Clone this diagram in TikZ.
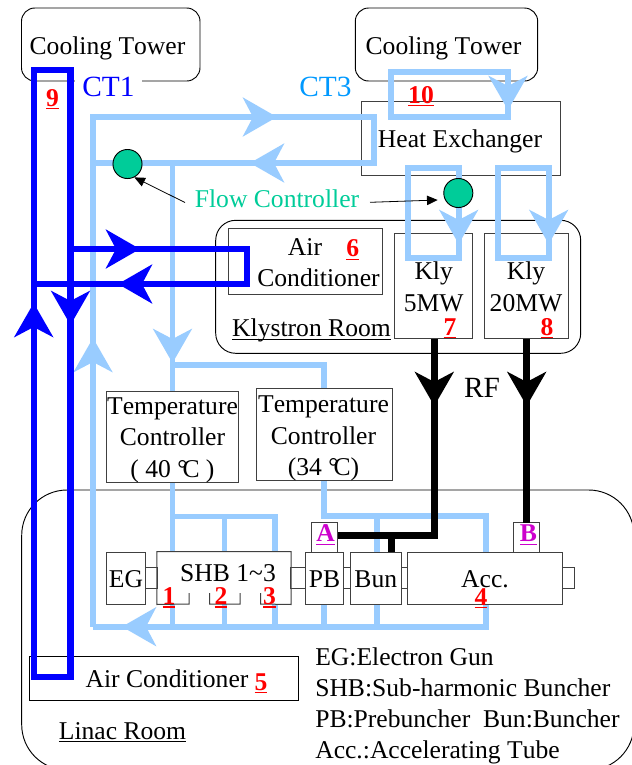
\documentclass[tikz,border=0pt]{standalone}
\usepackage{fontspec}
\setmainfont[Kerning=Off]{Liberation Serif}
\usetikzlibrary{arrows.meta}
\definecolor{ctone}{HTML}{0000FF}
\definecolor{ctthree}{HTML}{99CCFF}
\definecolor{ctthreetext}{HTML}{0099FF}
\definecolor{flow}{HTML}{00CC99}
\definecolor{mag}{HTML}{CC00CC}
\newcommand\myul[1]{\setbox0\hbox{#1}\leavevmode\hbox{\rlap{\rule[-2.3pt]{\wd0}{0.9pt}}\box0}}
\newcommand\pxbox[7][]{\node[#1,minimum width={(#5-#3)*0.75pt},minimum height={(#6-#4)*0.75pt}] (#2) at ({(#3+#5)/2},{(#4+#6)/2}) {#7};}
\tikzset{
  basefont/.style={font=\fontsize{19.2}{22}\selectfont},
  lbl/.style={basefont,inner sep=0pt,anchor=base},
  box/.style={draw=black!75,line width=0.75pt,inner sep=0pt,align=center,basefont},
  wbox/.style={box,fill=white},
  room/.style={draw=black,line width=0.7pt,fill=white,rounded corners=#1,inner sep=0pt},
  redn/.style={basefont,inner sep=0pt,text=red,anchor=base},
  magn/.style={basefont,inner sep=0pt,text=mag,anchor=base},
  pipeA/.style={draw=ctone,line width=4.6pt,line join=miter},
  pipeC/.style={draw=ctthree,line width=4.2pt,line join=miter},
  pipeR/.style={draw=black,line width=4.9pt,line join=miter},
  head/.style={-{Stealth[length=25.5pt,width=29pt,inset=7.5pt]}},
  thin/.style={draw=black,line width=0.6pt,-{Stealth[length=8pt,width=7pt,inset=0pt]}},
  valve/.style={circle,draw=black,line width=0.7pt,fill=flow,minimum size=21.8pt,inner sep=0pt},
}
\begin{document}
\begin{tikzpicture}[x=0.75pt,y=-0.75pt]
\useasboundingbox (0,0) rectangle (632,765);
% rooms and towers
\pxbox[room=10pt,basefont]{towerA}{21.5}{8}{200}{81}{}
\pxbox[room=10pt,basefont]{towerB}{355.3}{8}{537.7}{81}{}
\node[lbl] (towerAt) at (107.5,54) {Cooling Tower};
\node[lbl] (towerBt) at (443.5,54) {Cooling Tower};
\pxbox[room=34pt,basefont]{linac}{21.7}{490}{634}{770}{}
\pxbox[room=15pt,basefont]{klyroom}{215.7}{220.3}{580.7}{353.3}{}
\pxbox[wbox]{heat}{361}{101.7}{560}{175.7}{}
\pxbox[wbox]{klyA}{394.7}{233.5}{472}{338.7}{}
\pxbox[wbox]{klyB}{484.7}{233.5}{568.7}{338.7}{}
\pxbox[box]{acA}{228.7}{228.3}{382.3}{294.7}{}
\pxbox[box,draw=black]{acB}{29.3}{656}{298.3}{700.3}{}
% coordinates of the pipes
\coordinate (mL) at (93,117);   \coordinate (mR) at (374,117);
\coordinate (rR) at (374,163);  \coordinate (rL) at (93,163);
\coordinate (mB) at (93,626.7); \coordinate (retR) at (485.7,626.7);
\coordinate (accB) at (485.7,604);
\coordinate (dn) at (172.5,163); \coordinate (dnB) at (172.5,552);
\coordinate (c1) at (172.5,365); \coordinate (c2) at (324,365);
\coordinate (c3) at (324,516);   \coordinate (c4) at (485.7,516);
\coordinate (c5) at (485.7,552); \coordinate (s1) at (172.5,516.5);
\coordinate (s3) at (275,516.5); \coordinate (s3b) at (275,552);
\coordinate (s2) at (224.5,516.5); \coordinate (s2b) at (224.5,552);
\coordinate (bunT) at (376.7,516); \coordinate (bunTb) at (376.7,552);
\coordinate (r1a) at (172.5,604); \coordinate (r1b) at (172.5,626.7);
\coordinate (r2a) at (224.5,604); \coordinate (r2b) at (224.5,626.7);
\coordinate (r3a) at (275,604);   \coordinate (r3b) at (275,626.7);
\coordinate (r4a) at (324,604);   \coordinate (r4b) at (324,626.7);
\coordinate (r5a) at (376.7,604); \coordinate (r5b) at (376.7,626.7);
% CT3 water pipes
\draw[pipeC] (mB) -- (mL) -- (mR) -- (rR) -- (rL);
\draw[pipeC] (mB) -- (retR) -- (accB);
\draw[pipeC] (dn) -- (dnB);
\draw[pipeC] (c1) -- (c2) -- (c3) -- (c4) -- (c5);
\draw[pipeC] (s1) -- (s3) -- (s3b);
\draw[pipeC] (s2) -- (s2b);
\draw[pipeC] (bunT) -- (bunTb);
\foreach \n in {1,2,3,4,5} {\draw[pipeC] (r\n a) -- (r\n b);}
% CT3 to heat exchanger, klystrons
\draw[pipeC] (391,72) rectangle (508,116.7);
\draw[pipeC] (408,168) rectangle (458.7,257.7);
\draw[pipeC] (498,168) rectangle (548.7,257.7);
% room line over the klystron loops
\draw[black,line width=0.7pt] (413,220.3) -- (456,220.3) (462,220.3) -- (495,220.3);
% arrowheads on light pipes
\coordinate (h1s) at (230,117); \coordinate (h1) at (277,117);
\coordinate (h2s) at (300,163); \coordinate (h2) at (250,163);
\coordinate (h3s) at (172.5,310); \coordinate (h3) at (172.5,363);
\coordinate (h4s) at (93,390); \coordinate (h4) at (93,338);
\coordinate (h5s) at (170,626.7); \coordinate (h5) at (122,626.7);
\coordinate (h6s) at (508,70); \coordinate (h6) at (508,110);
\coordinate (h7s) at (458.7,205); \coordinate (h7) at (458.7,244);
\coordinate (h8s) at (548.7,205); \coordinate (h8) at (548.7,244);
\foreach \n in {1,...,8} {\draw[pipeC,head,fill=ctthree] (h\n s) -- (h\n);}
% lower nodes
\pxbox[wbox]{tempA}{106}{391}{238.7}{482.3}{}
\pxbox[wbox]{tempB}{256}{388.7}{392}{480.3}{}
\pxbox[wbox]{eg}{106.3}{552}{145.3}{604}{}
\pxbox[box,fill=white,draw=none]{shb}{157.3}{552}{290.7}{604}{}
\draw[draw=black!75,line width=0.75pt] (189,593) -- (189,604) -- (shb.south west) -- (shb.north west) -- (shb.north east) -- (shb.south east) -- (260.5,604) -- (260.5,593)
  (240,593) -- (240,604) -- (209.5,604) -- (209.5,593);
\pxbox[wbox]{pb}{305.7}{552}{343.7}{604}{}
\pxbox[wbox]{bun}{350.3}{552}{401.3}{604}{}
\pxbox[wbox]{acc}{407.7}{552}{562.3}{604}{}
\pxbox[wbox]{la}{311.7}{522.7}{337.7}{552}{}
\pxbox[wbox]{lb}{513.3}{522.7}{539.3}{552}{}
% links between the row of components
\pxbox[box]{g1}{145.3}{567.3}{157.3}{588.7}{}
\pxbox[box]{g2}{290.7}{567.3}{305.7}{588.7}{}
\pxbox[box]{g3}{343.7}{567.3}{350.3}{588.7}{}
\pxbox[box]{g4}{401.3}{567.3}{407.7}{588.7}{}
\pxbox[box]{g5}{562.3}{567.3}{574.7}{588.7}{}
% RF
\coordinate (rfa1) at (434.3,338.7); \coordinate (rfa2) at (434.3,535.5);
\coordinate (rfb1) at (526.7,338.7); \coordinate (rfb2) at (526.7,522.7);
\coordinate (rfj) at (391.5,535.5); \coordinate (rfjb) at (391.5,552);
\coordinate (rfal) at (337.7,535.5);
\draw[pipeR] (rfa1) -- (rfa2) -- (rfal);
\draw[pipeR] (rfj) -- (rfjb);
\draw[pipeR] (rfb1) -- (rfb2);
\coordinate (ra) at (434.3,406); \coordinate (ras) at (434.3,360);
\coordinate (rb) at (526.7,406); \coordinate (rbs) at (526.7,360);
\draw[pipeR,head,fill=black] (ras) -- (ra);
\draw[pipeR,head,fill=black] (rbs) -- (rb);
% CT1 water pipes
\draw[pipeA] (33.7,70) rectangle (70.5,677);
\coordinate (aR) at (70.5,249); \coordinate (aC) at (247,249);
\coordinate (aD) at (247,284); \coordinate (aL) at (33.7,284);
\draw[pipeA] (aR) -- (aC) -- (aD) -- (aL);
\coordinate (b1s) at (90,249); \coordinate (b1) at (140,249);
\coordinate (b2s) at (170,284); \coordinate (b2) at (118,284);
\coordinate (b3s) at (70.5,280); \coordinate (b3) at (70.5,325);
\coordinate (b4s) at (33.7,350); \coordinate (b4) at (33.7,303);
\foreach \n in {1,...,4} {\draw[pipeA,head,fill=ctone] (b\n s) -- (b\n);}
% valves
\node[valve] (va) at (127.5,164) {};
\node[valve] (vb) at (458.3,193) {};
% labels
\node[inner sep=0pt,fill=white,text=ctone,font=\fontsize{22}{24}\selectfont,minimum width=50pt,minimum height=18pt] (ct1) at (108.5,87) {CT1};
\node[inner sep=0pt,text=ctthreetext,font=\fontsize{22}{24}\selectfont] (ct3) at (325.5,87) {CT3};
\node[lbl,text=flow] (fc) at (277,207.3) {Flow Controller};
\coordinate (fca) at (185,202.5); \coordinate (fcb) at (370,202.3); \coordinate (fcc) at (437.7,200);
\draw[thin] (fca) -- (va.-63);
\draw[thin] (fcb) -- (fcc);
\node[lbl] (heatt) at (460,147.7) {Heat Exchanger};
\node[lbl] (airt) at (305,255) {Air};
\node[lbl] (cont) at (318.5,286) {Conditioner};
\node[lbl] (klyroomt) at (311.5,336.7) {\myul{Klystron Room}};
\node[lbl] (k1) at (433.7,279.7) {Kly};
\node[lbl] (k2) at (433.7,311) {5MW};
\node[lbl] (k3) at (526,279.7) {Kly};
\node[lbl] (k4) at (526,311) {20MW};
\node[lbl,font=\fontsize{22}{24}\selectfont] (rf) at (482,397.7) {RF};
\node[lbl] (t1) at (172.5,414.3) {Temperature};
\node[lbl] (t2) at (172.5,445.7) {Controller};
\node[lbl] (t3) at (172.5,477.7) {( 40 \textdegree\kern-.2em C )};
\node[lbl] (t4) at (323.5,412.7) {Temperature};
\node[lbl] (t5) at (323.5,444) {Controller};
\node[lbl] (t6) at (323.5,475.7) {(34 \textdegree\kern-.2em C)};
\node[lbl] (egt) at (126,587.3) {EG};
\node[lbl] (shbt) at (228,581.7) {SHB 1\textasciitilde 3};
\node[lbl] (pbt) at (324.5,587.3) {PB};
\node[lbl] (bunt) at (375.8,587.3) {Bun};
\node[lbl] (acct) at (485,587.3) {Acc.};
\node[lbl] (act) at (167,687) {Air Conditioner};
\node[lbl] (linact) at (122.5,739) {\myul{Linac Room}};
\node[lbl,anchor=base west] (l1) at (315,665) {EG:Electron Gun};
\node[lbl,anchor=base west] (l2) at (315,696) {SHB:Sub-harmonic Buncher};
\node[lbl,anchor=base west] (l3) at (315,727) {PB:Prebuncher\ \ Bun:Buncher};
\node[lbl,anchor=base west] (l4) at (315,758) {Acc.:Accelerating Tube};
\node[redn] (n1) at (169,604.5) {\myul{\bfseries 1}};
\node[redn] (n2) at (221,604.5) {\myul{\bfseries 2}};
\node[redn] (n3) at (269.5,604.5) {\myul{\bfseries 3}};
\node[redn] (n4) at (481,605) {\myul{\bfseries 4}};
\node[redn] (n5) at (261,690) {\myul{\bfseries 5}};
\node[redn] (n6) at (352.7,256.7) {\myul{\bfseries 6}};
\node[redn] (n7) at (450,335) {\myul{\bfseries 7}};
\node[redn] (n8) at (547,335) {\myul{\bfseries 8}};
\node[redn] (n9) at (52.5,106) {\myul{\bfseries 9}};
\node[redn] (n10) at (421,103.3) {\myul{\bfseries 10}};
\node[magn] (na) at (325.5,541.7) {\myul{\bfseries A}};
\node[magn] (nb) at (528.5,541.7) {\myul{\bfseries B}};
\end{tikzpicture}
\end{document}
